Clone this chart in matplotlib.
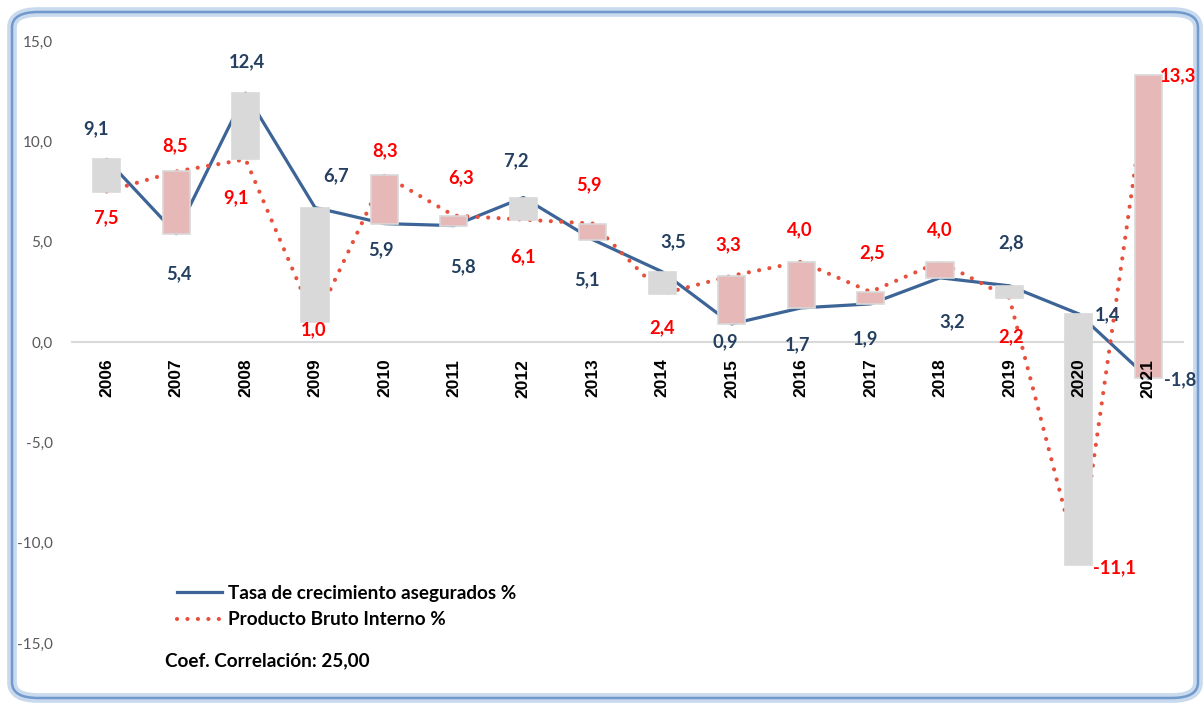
import matplotlib
matplotlib.use("Agg")
import matplotlib.pyplot as plt
from matplotlib.patches import FancyBboxPatch
from matplotlib.lines import Line2D
import numpy as np

years = ["2006", "2007", "2008", "2009", "2010", "2011", "2012", "2013",
         "2014", "2015", "2016", "2017", "2018", "2019", "2020", "2021"]
asegurados = [9.1, 5.4, 12.4, 6.7, 5.9, 5.8, 7.2, 5.1, 3.5, 0.9, 1.7, 1.9, 3.2, 2.8, 1.4, -1.8]
pbi = [7.5, 8.5, 9.1, 1.0, 8.3, 6.3, 6.1, 5.9, 2.4, 3.3, 4.0, 2.5, 4.0, 2.2, -11.1, 13.3]
yticks = [-15, -10, -5, 0, 5, 10, 15]
legend_labels = ["Tasa de crecimiento asegurados %", "Producto Bruto Interno %"]
note = "Coef. Correlación: 25,00"

# label offsets in pixels (layout only)
blue_off = [(-11, 31), (3, -40), (1, 31), (21, 32), (-3, -26), (9, -41), (-7, 37), (-6, -40),
            (11, 30), (-6, -18), (-4, -37), (-5, -35), (12, -44), (2, 43), (29, -1), (32, -2)]
red_off = [(-1, -26), (-1, 26), (-10, -38), (-1, -8), (1, 25), (7, 38), (0, -37), (-4, 39),
           (0, -34), (-3, 31), (-1, 32), (2, 39), (0, 32), (2, -39), (36, -3), (30, -1)]

BLUE = "#3C6497"
RED = "#E8503E"
NAVY = "#243F60"

fig = plt.figure(figsize=(12.04, 7.04), dpi=100)
fig.patch.set_facecolor("white")

# rounded frame
frame = FancyBboxPatch((12 / 1204, 6 / 704), 1186 / 1204, 686 / 704,
                       boxstyle="round,pad=0,rounding_size=0.022",
                       transform=fig.transFigure, facecolor="white",
                       edgecolor="#C9DAEF", linewidth=7, zorder=-10)
fig.patches.append(frame)
frame2 = FancyBboxPatch((12 / 1204, 6 / 704), 1186 / 1204, 686 / 704,
                        boxstyle="round,pad=0,rounding_size=0.022",
                        transform=fig.transFigure, facecolor="none",
                        edgecolor="#7199CC", linewidth=1.8, zorder=-9)
fig.patches.append(frame2)

ax = fig.add_axes([72 / 1204, 61 / 704, (1183 - 72) / 1204, (643 - 41) / 704])
ax.set_facecolor("none")
x = np.arange(len(years))

ax.plot(x, asegurados, color=BLUE, lw=2.3, solid_capstyle="round", zorder=2)
ax.plot(x, pbi, color=RED, lw=3.0, linestyle=(0, (0.01, 2.5)),
        dash_capstyle="round", zorder=2)

for i in range(len(years)):
    lo = min(asegurados[i], pbi[i])
    hi = max(asegurados[i], pbi[i])
    col = "#D9D9D9" if asegurados[i] > pbi[i] else "#E6B9B8"
    ax.bar(x[i], hi - lo, bottom=lo, width=0.39, color=col,
           edgecolor="#D9D9D9", linewidth=1.2, zorder=3)

for i in range(len(years)):
    ax.annotate(f"{asegurados[i]:.1f}".replace(".", ","), (x[i], asegurados[i]),
                xytext=blue_off[i], textcoords="offset pixels",
                ha="center", va="center", color=NAVY, fontsize=13.2,
                family="Lato", fontweight="bold", zorder=5)
    ax.annotate(f"{pbi[i]:.1f}".replace(".", ","), (x[i], pbi[i]),
                xytext=red_off[i], textcoords="offset pixels",
                ha="center", va="center", color="#FF0000", fontsize=13.2,
                family="Lato", fontweight="bold", zorder=5)

ax.set_xlim(-0.5, len(years) - 0.5)
ax.set_ylim(-15, 15)
ax.set_yticks(yticks)
ax.set_yticklabels([f"{v:.1f}".replace(".", ",") for v in yticks],
                   fontsize=11, color="#595959", family="Lato")
ax.tick_params(axis="y", length=0, pad=14)
ax.spines["bottom"].set_position(("data", 0))
ax.spines["bottom"].set_color("#D9D9D9")
ax.spines["bottom"].set_linewidth(1.5)
ax.spines["bottom"].set_zorder(1)
for s in ["left", "right", "top"]:
    ax.spines[s].set_visible(False)
ax.set_xticks(x)
ax.set_xticklabels(years, rotation=90, fontsize=12.5, fontweight="bold",
                   family="Liberation Sans", color="black")
ax.tick_params(axis="x", length=0, pad=12)
ax.xaxis.set_zorder(4)

handles = [Line2D([0], [0], color=BLUE, lw=2.3),
           Line2D([0], [0], color=RED, lw=3.0, linestyle=(0, (0.01, 2.5)),
                  dash_capstyle="round")]
leg = fig.legend(handles, legend_labels, loc="upper left",
                 bbox_to_anchor=(177 / 1204, 1 - 585 / 704), frameon=False,
                 prop={"family": "Lato", "weight": "bold", "size": 13.6},
                 handlelength=2.4, handletextpad=0.3, labelspacing=0.5,
                 borderpad=0, borderaxespad=0)
fig.text(165 / 1204, 1 - 661 / 704, note, ha="left", va="center",
         fontsize=13.6, family="Lato", fontweight="bold", color="black")

fig.savefig("out.png", dpi=100, facecolor="white")
